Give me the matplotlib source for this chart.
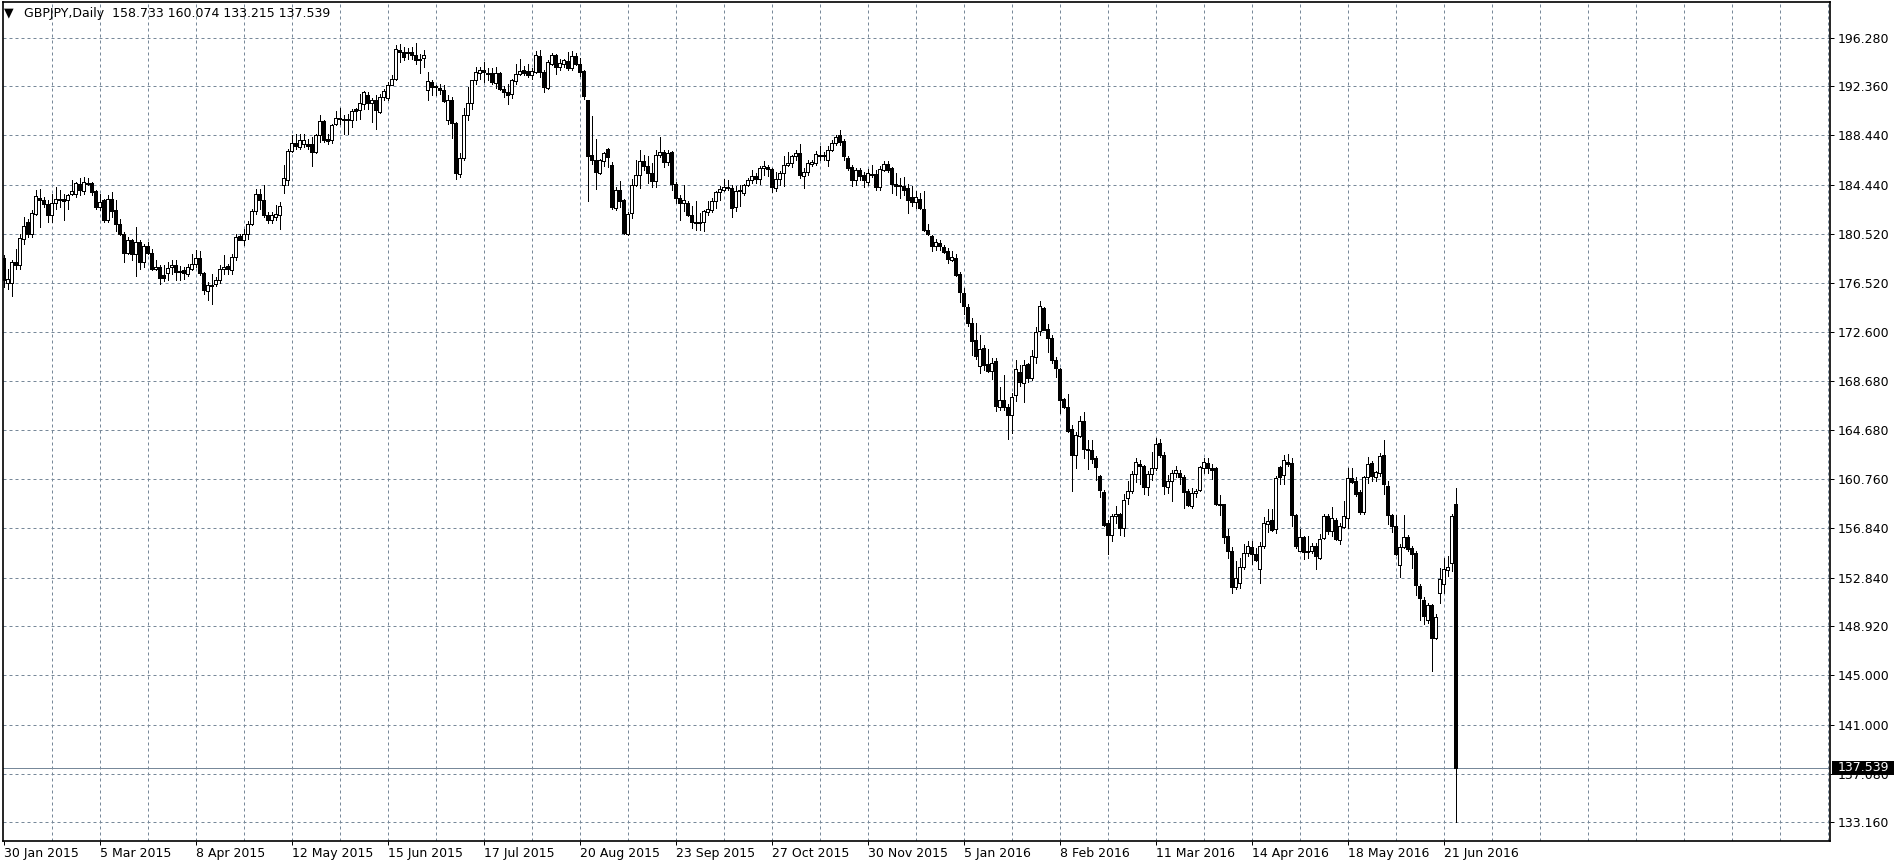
import matplotlib
matplotlib.use("Agg")
import matplotlib.pyplot as plt
from matplotlib.patches import Rectangle
from matplotlib.transforms import blended_transform_factory
import numpy as np

W, H, DPI = 1898, 867, 100
GRID = "#778899"
PX = 72.0 / DPI  # one pixel in points

symbol = "GBPJPY,Daily"

# daily OHLC, 30 Jan 2015 .. 24 Jun 2016
opens = [
    178.59, 176.58, 176.58, 178.24, 178.03, 180.12, 181.46, 180.52, 182.13, 183.41,
    183.20, 182.93, 182.00, 182.98, 183.20, 183.33, 183.25, 183.68, 183.73, 184.54,
    183.95, 184.62, 184.62, 183.95, 182.66, 183.20, 181.59, 183.33, 182.45, 181.32,
    180.52, 178.99, 179.98, 178.91, 179.85, 178.24, 179.50, 178.99, 177.65, 177.84,
    177.16, 177.38, 177.84, 177.97, 177.51, 177.57, 177.30, 177.70, 178.11, 178.59,
    177.38, 175.90, 176.41, 176.50, 176.77, 177.70, 177.92, 177.57, 178.64, 180.33,
    180.03, 180.46, 181.32, 182.34, 183.73, 183.25, 182.00, 181.59, 181.86, 182.04,
    184.40, 184.86, 187.14, 187.83, 187.49, 187.70, 187.75, 187.75, 187.08, 188.42,
    189.55, 188.10, 188.02, 189.31, 189.85, 189.71, 189.66, 189.69, 190.52, 190.44,
    190.97, 191.64, 191.05, 191.24, 190.30, 191.51, 191.43, 192.50, 192.98, 195.31,
    195.13, 195.05, 195.13, 194.91, 194.59, 194.67, 192.04, 192.71, 192.37, 192.26,
    192.04, 189.63, 191.24, 189.44, 185.34, 186.63, 190.03, 191.05, 192.85, 193.44,
    193.65, 193.44, 193.44, 192.63, 193.47, 192.18, 191.91, 191.72, 192.77, 193.33,
    193.65, 193.57, 193.30, 193.52, 194.80, 193.52, 192.26, 194.19, 194.85, 193.92,
    194.19, 194.38, 193.87, 194.78, 194.13, 193.60, 191.24, 186.82, 186.41, 185.42,
    186.33, 187.30, 186.01, 182.58, 184.05, 183.20, 180.46, 182.18, 184.46, 185.21,
    186.33, 185.96, 185.39, 184.72, 186.81, 187.08, 186.25, 187.05, 184.50, 183.38,
    182.98, 182.98, 182.04, 181.42, 181.42, 181.42, 182.23, 182.44, 183.11, 183.86,
    184.05, 184.26, 184.18, 182.65, 183.91, 183.78, 184.42, 184.80, 185.12, 184.91,
    185.79, 185.87, 185.71, 184.18, 184.91, 185.39, 186.06, 186.19, 186.73, 187.00,
    185.12, 185.47, 186.14, 186.19, 186.86, 186.81, 186.41, 187.27, 187.80, 188.42,
    187.94, 186.60, 185.87, 184.80, 185.66, 185.20, 184.64, 185.26, 185.31, 184.24,
    185.66, 186.11, 185.79, 184.50, 184.45, 184.37, 184.18, 183.43, 183.03, 183.32,
    182.52, 180.83, 180.35, 179.49, 179.76, 179.41, 179.14, 178.42, 178.55, 177.27,
    175.78, 174.62, 173.36, 171.99, 169.90, 171.35, 170.01, 169.47, 170.23, 166.58,
    167.12, 166.53, 165.96, 167.57, 169.39, 168.51, 170.01, 168.94, 170.60, 172.67,
    174.57, 172.88, 172.08, 170.39, 169.59, 167.20, 166.58, 164.76, 162.69, 164.25,
    165.43, 163.22, 163.09, 162.47, 161.00, 159.74, 157.25, 156.25, 157.81, 157.99,
    156.87, 159.21, 159.80, 161.16, 161.97, 161.81, 160.14, 161.16, 161.70, 163.71,
    162.74, 160.14, 160.63, 161.30, 161.27, 160.90, 159.80, 158.62, 159.69, 159.87,
    161.68, 162.03, 161.68, 161.68, 158.78, 158.73, 156.23, 154.97, 152.08, 152.43,
    153.69, 154.84, 155.30, 154.76, 153.55, 155.38, 157.18, 157.47, 156.72, 161.73,
    161.09, 162.16, 162.03, 157.87, 155.02, 156.10, 155.02, 154.97, 155.38, 154.44,
    156.05, 157.79, 156.58, 157.47, 155.91, 156.90, 157.66, 160.82, 160.61, 159.75,
    158.14, 160.93, 162.03, 160.93, 161.28, 162.70, 160.20, 157.87, 156.98, 153.82,
    155.30, 156.10, 155.24, 154.81, 152.16, 151.03, 149.47, 150.63, 147.95, 151.62,
    152.37, 153.42, 154.03, 158.733,
]
highs = [
    178.78, 177.70, 178.43, 179.31, 180.52, 181.86, 181.72, 182.40, 184.00, 184.13,
    183.47, 183.20, 183.73, 184.27, 184.00, 183.73, 183.73, 184.86, 184.67, 185.02,
    185.07, 185.02, 184.67, 184.00, 183.73, 183.33, 183.60, 183.87, 183.20, 181.72,
    180.65, 180.25, 180.12, 181.05, 179.98, 179.71, 179.85, 179.31, 178.37, 177.97,
    177.97, 178.24, 178.37, 178.43, 177.89, 177.84, 178.11, 178.91, 179.23, 179.12,
    177.43, 176.63, 177.30, 177.03, 177.97, 178.78, 178.05, 178.91, 180.52, 180.52,
    180.92, 181.53, 182.53, 184.13, 184.13, 184.46, 182.26, 182.26, 182.79, 183.06,
    186.07, 187.35, 188.42, 188.56, 188.56, 188.56, 188.16, 188.29, 188.56, 190.03,
    189.66, 188.56, 189.36, 190.38, 190.65, 190.03, 190.11, 190.57, 190.65, 191.72,
    191.99, 191.91, 191.45, 191.64, 191.72, 192.18, 192.71, 193.25, 195.66, 195.80,
    195.53, 195.47, 195.53, 195.88, 194.99, 195.26, 193.52, 192.85, 192.45, 192.58,
    192.45, 191.64, 191.51, 189.50, 187.00, 190.65, 192.31, 192.90, 193.92, 193.92,
    194.32, 193.87, 193.87, 193.92, 193.52, 192.37, 192.58, 192.98, 194.19, 194.59,
    193.97, 194.19, 193.87, 195.21, 195.26, 193.65, 194.46, 195.05, 194.99, 194.59,
    194.59, 195.13, 195.21, 195.05, 194.67, 193.71, 191.29, 189.95, 188.16, 186.55,
    187.08, 187.41, 186.28, 184.27, 184.72, 183.33, 182.26, 184.94, 186.41, 187.27,
    186.87, 186.74, 186.19, 187.27, 188.28, 187.27, 187.27, 187.13, 184.64, 183.65,
    184.45, 183.11, 182.71, 183.11, 182.17, 182.44, 183.11, 183.38, 183.97, 184.37,
    184.91, 184.80, 184.45, 184.37, 184.45, 184.50, 184.99, 185.66, 185.39, 185.98,
    186.38, 186.06, 185.79, 185.44, 185.52, 186.73, 187.05, 186.86, 187.27, 187.75,
    185.79, 186.46, 186.46, 187.13, 187.53, 187.05, 187.53, 188.07, 188.47, 188.87,
    188.12, 186.73, 186.06, 185.79, 185.79, 185.44, 185.71, 186.06, 185.66, 185.93,
    186.33, 186.38, 185.87, 185.39, 184.99, 185.07, 184.53, 184.32, 183.91, 183.78,
    183.97, 181.31, 180.43, 180.08, 180.03, 179.63, 179.36, 179.09, 178.90, 177.40,
    176.18, 174.84, 173.76, 173.36, 172.34, 171.59, 171.27, 170.55, 170.55, 168.14,
    169.13, 166.85, 167.70, 170.39, 169.93, 170.33, 170.12, 171.14, 173.02, 175.08,
    174.62, 173.28, 172.35, 170.60, 169.67, 167.33, 167.65, 165.10, 164.57, 165.83,
    166.18, 163.95, 163.95, 162.61, 161.08, 159.93, 157.46, 157.99, 158.59, 158.05,
    159.61, 160.63, 161.43, 162.50, 162.29, 161.89, 161.43, 162.96, 164.11, 164.03,
    162.96, 161.08, 161.48, 161.81, 161.48, 161.06, 160.01, 160.09, 159.96, 161.81,
    162.48, 162.48, 161.95, 161.73, 159.53, 158.78, 156.72, 155.30, 154.22, 154.44,
    155.51, 155.78, 155.78, 155.24, 155.73, 157.71, 158.33, 158.33, 161.01, 161.81,
    162.70, 162.80, 162.48, 157.97, 156.72, 156.18, 156.18, 155.64, 155.64, 156.39,
    158.00, 157.97, 158.51, 157.60, 157.25, 158.99, 161.68, 161.68, 160.93, 159.86,
    161.01, 162.54, 162.21, 161.46, 162.88, 163.88, 160.61, 157.97, 157.92, 155.56,
    157.92, 156.31, 155.38, 154.97, 152.37, 151.27, 150.82, 150.69, 149.88, 153.63,
    154.44, 154.57, 157.97, 160.074,
]
lows = [
    176.23, 176.10, 175.51, 177.70, 177.70, 179.71, 180.25, 180.25, 182.00, 181.05,
    182.66, 181.46, 181.46, 182.53, 182.66, 181.64, 182.53, 183.60, 183.47, 183.60,
    183.68, 184.40, 183.60, 182.53, 182.40, 181.46, 181.46, 181.86, 180.73, 180.38,
    178.24, 178.91, 178.37, 177.08, 177.70, 177.84, 178.91, 177.57, 177.57, 176.50,
    176.71, 176.77, 177.30, 176.77, 176.77, 176.90, 177.08, 177.57, 177.84, 177.16,
    175.64, 175.21, 174.88, 176.31, 176.58, 177.30, 177.24, 177.30, 178.37, 179.98,
    179.58, 180.12, 181.19, 182.07, 182.53, 181.86, 181.37, 181.37, 181.59, 180.92,
    183.79, 184.40, 187.08, 187.35, 187.35, 187.49, 187.35, 185.96, 187.00, 187.89,
    187.89, 187.75, 187.81, 189.23, 189.31, 188.56, 188.50, 189.09, 189.63, 189.71,
    190.57, 190.57, 189.50, 188.91, 190.22, 191.24, 191.29, 192.45, 192.90, 194.32,
    194.51, 194.59, 194.54, 194.19, 193.44, 193.92, 191.24, 191.64, 191.64, 191.77,
    191.11, 189.31, 188.24, 184.89, 185.07, 186.41, 189.66, 190.52, 192.58, 192.98,
    192.71, 192.85, 192.58, 192.26, 192.04, 191.51, 190.97, 191.45, 192.58, 193.25,
    193.25, 193.12, 192.98, 193.44, 193.12, 191.91, 192.18, 194.05, 193.38, 193.65,
    193.92, 193.71, 193.71, 194.05, 193.20, 191.37, 183.12, 186.09, 184.13, 185.34,
    185.93, 185.88, 182.53, 182.40, 182.66, 180.52, 180.38, 181.80, 184.35, 184.21,
    185.61, 184.59, 184.24, 184.26, 186.68, 185.87, 186.06, 184.05, 182.98, 181.63,
    182.31, 181.90, 180.96, 180.83, 180.83, 180.70, 182.04, 182.23, 182.57, 183.24,
    183.91, 184.05, 181.85, 182.31, 182.76, 183.65, 184.37, 184.58, 184.58, 184.50,
    185.26, 185.12, 183.83, 183.91, 184.45, 184.37, 185.98, 185.85, 186.46, 184.99,
    184.18, 185.26, 185.93, 186.06, 186.46, 186.46, 185.98, 187.13, 187.67, 187.61,
    186.46, 185.66, 184.32, 184.45, 184.85, 184.26, 184.40, 185.07, 183.99, 184.05,
    185.52, 185.44, 183.78, 183.65, 183.38, 183.65, 182.17, 182.71, 182.57, 182.49,
    180.70, 180.43, 179.09, 179.22, 179.22, 178.95, 178.15, 178.28, 177.08, 175.00,
    174.09, 173.07, 170.74, 170.44, 169.31, 169.53, 169.39, 168.86, 166.26, 166.31,
    166.36, 164.03, 164.49, 167.04, 168.24, 166.98, 168.59, 168.72, 170.12, 172.40,
    172.75, 171.01, 170.07, 169.00, 166.05, 166.45, 164.57, 159.82, 161.70, 164.17,
    162.50, 161.62, 162.07, 160.73, 159.34, 156.98, 154.73, 155.80, 157.25, 156.25,
    156.18, 158.75, 159.66, 160.55, 160.36, 159.55, 159.47, 160.73, 161.54, 162.56,
    159.55, 159.66, 159.02, 160.95, 160.36, 158.48, 158.59, 158.48, 159.29, 159.80,
    161.27, 161.27, 160.74, 158.67, 157.92, 155.64, 154.44, 151.62, 151.89, 151.97,
    153.50, 154.57, 153.90, 154.17, 152.43, 155.24, 156.54, 156.59, 156.45, 160.37,
    160.39, 161.81, 156.98, 155.24, 154.97, 154.38, 154.44, 154.84, 153.55, 154.38,
    155.99, 156.37, 156.18, 155.91, 155.56, 156.80, 156.85, 160.43, 159.40, 157.97,
    157.97, 160.47, 160.61, 160.61, 161.01, 159.59, 157.12, 156.53, 154.65, 152.89,
    155.24, 155.02, 153.63, 151.43, 149.47, 149.13, 149.21, 145.37, 147.87, 150.82,
    151.62, 152.97, 153.36, 133.215,
]
closes = [
    176.77, 176.90, 178.24, 178.03, 180.20, 181.11, 180.52, 182.18, 183.52, 183.20,
    182.93, 182.00, 183.01, 183.33, 183.33, 183.14, 183.60, 183.92, 184.59, 184.00,
    184.67, 184.54, 183.87, 182.66, 183.06, 181.59, 183.33, 182.34, 181.32, 180.52,
    178.99, 179.98, 178.91, 179.85, 178.24, 179.50, 178.99, 177.70, 177.84, 176.98,
    176.98, 177.78, 178.03, 177.43, 177.43, 177.38, 177.84, 178.11, 178.59, 177.35,
    176.01, 176.36, 176.31, 176.82, 177.70, 177.84, 177.70, 178.64, 180.25, 180.03,
    180.46, 181.32, 182.31, 183.73, 183.25, 182.00, 181.59, 182.00, 182.13, 182.71,
    184.99, 187.14, 187.83, 187.57, 188.02, 188.02, 187.54, 187.08, 188.42, 189.55,
    188.02, 187.97, 189.28, 189.85, 189.74, 189.66, 189.71, 190.35, 190.38, 191.05,
    191.91, 191.02, 191.24, 190.44, 191.51, 191.96, 192.50, 192.98, 195.39, 195.13,
    194.72, 195.13, 194.85, 194.51, 194.51, 194.85, 192.79, 192.31, 192.31, 192.04,
    191.19, 191.24, 189.42, 185.39, 186.63, 190.03, 191.05, 192.85, 193.52, 193.71,
    193.52, 193.38, 192.71, 193.44, 192.12, 191.91, 191.69, 192.85, 193.38, 193.60,
    193.44, 193.25, 193.57, 194.85, 193.52, 192.31, 194.32, 194.85, 193.92, 194.24,
    194.46, 193.87, 194.78, 194.19, 193.52, 191.56, 186.74, 186.47, 185.47, 186.41,
    187.03, 186.68, 182.66, 184.05, 183.14, 180.60, 182.13, 184.46, 185.21, 186.33,
    185.96, 185.39, 184.72, 186.86, 187.08, 186.25, 187.00, 184.50, 183.38, 182.98,
    183.24, 182.04, 181.42, 181.37, 181.37, 182.31, 182.49, 183.16, 183.86, 184.10,
    184.24, 184.16, 182.57, 183.91, 184.05, 184.40, 184.85, 185.12, 184.91, 185.79,
    185.98, 185.71, 184.24, 184.91, 185.39, 186.06, 186.19, 186.73, 187.00, 185.20,
    185.47, 186.19, 186.25, 186.94, 186.78, 186.73, 187.27, 187.80, 188.28, 187.86,
    186.73, 185.79, 184.80, 185.66, 185.17, 184.80, 185.39, 185.31, 184.24, 185.71,
    186.11, 185.66, 184.53, 184.37, 184.37, 183.99, 183.19, 183.03, 183.43, 182.57,
    180.83, 180.51, 179.49, 179.81, 179.49, 179.03, 178.50, 178.63, 177.16, 175.79,
    174.70, 173.34, 171.89, 170.65, 171.27, 169.93, 169.47, 170.12, 166.66, 167.12,
    166.53, 165.91, 167.38, 169.66, 168.59, 169.93, 168.91, 170.66, 172.59, 174.68,
    172.80, 172.08, 170.39, 169.67, 167.17, 166.58, 164.65, 162.69, 164.35, 165.43,
    163.22, 163.09, 162.42, 161.75, 159.87, 157.06, 156.25, 157.78, 157.99, 156.87,
    159.07, 159.80, 161.16, 162.13, 161.83, 160.14, 161.16, 161.70, 163.63, 162.69,
    160.22, 160.60, 161.30, 161.54, 160.90, 159.74, 158.67, 159.69, 159.80, 161.75,
    162.16, 161.68, 161.54, 158.78, 158.67, 156.10, 155.02, 152.08, 152.83, 153.69,
    154.84, 155.38, 154.76, 154.30, 155.38, 157.20, 157.39, 156.67, 160.82, 160.93,
    162.27, 162.00, 157.87, 155.38, 156.10, 154.92, 154.92, 155.38, 154.57, 155.99,
    157.79, 156.58, 157.60, 155.99, 156.98, 157.84, 160.82, 160.55, 159.59, 158.14,
    160.93, 161.95, 161.01, 161.33, 162.62, 160.34, 157.87, 156.98, 154.76, 155.30,
    156.10, 155.11, 154.76, 152.21, 151.22, 149.75, 150.63, 148.00, 149.67, 152.70,
    153.50, 153.71, 157.79, 137.539,
]

date_labels = ["30 Jan 2015", "5 Mar 2015", "8 Apr 2015", "12 May 2015", "15 Jun 2015",
               "17 Jul 2015", "20 Aug 2015", "23 Sep 2015", "27 Oct 2015", "30 Nov 2015",
               "5 Jan 2016", "8 Feb 2016", "11 Mar 2016", "14 Apr 2016", "18 May 2016",
               "21 Jun 2016"]
price_ticks = [196.28, 192.36, 188.44, 184.44, 180.52, 176.52, 172.60, 168.68, 164.68,
               160.76, 156.84, 152.84, 148.92, 145.00, 141.00, 137.08, 133.16]

plt.rcParams["font.family"] = "DejaVu Sans"
fig = plt.figure(figsize=(W / DPI, H / DPI), dpi=DPI)
fig.patch.set_facecolor("white")

# plot frame in pixels: x 2.7..1830, y 2..841 (from top)
L, R, T, B = 2.7, 1830.0, 2.0, 841.0
ax = fig.add_axes([L / W, (H - B) / H, (R - L) / W, (B - T) / H])
ax.set_facecolor("white")

o, h, l, c = map(np.asarray, (opens, highs, lows, closes))
x = np.arange(len(c))
up = c >= o

# grid
for p in price_ticks:
    ax.axhline(p, color=GRID, lw=PX, ls=(0, (3, 3)), zorder=1)
for xv in range(12, 457, 12):
    ax.axvline(xv, color=GRID, lw=PX, ls=(0, (3, 3)), zorder=1)

# bid line
ax.axhline(c[-1], color=GRID, lw=PX, zorder=2)

# candles
ax.vlines(x, l, h, colors="black", lw=PX, zorder=3, antialiased=False)
ax.bar(x, np.abs(c - o), bottom=np.minimum(o, c), width=0.55,
       color=np.where(up, "white", "black"), edgecolor="black", linewidth=PX,
       zorder=4, antialiased=False)

ax.set_xlim(-0.22, 456.6)
ax.set_ylim(131.656, 199.15)

ax.set_xticks(np.arange(len(date_labels)) * 24)
ax.set_xticklabels(date_labels, ha="left")
ax.yaxis.tick_right()
ax.set_yticks(price_ticks)
ax.set_yticklabels([f"{p:.3f}" for p in price_ticks])
ax.tick_params(axis="x", direction="out", length=4 * PX, width=PX, pad=1.5,
               labelsize=9, colors="black")
ax.tick_params(axis="y", direction="out", length=4 * PX, width=PX, pad=2.6,
               labelsize=9, colors="black")
for s in ax.spines.values():
    s.set_color("black")
    s.set_linewidth(1.2)

# current price marker on the price scale (covers the 137.080 label, as in MT4)
bt = blended_transform_factory(ax.transAxes, ax.transData)
aw = R - L
ax.add_patch(Rectangle(((1832 - L) / aw, c[-1] - 0.58), 62 / aw, 1.16, transform=bt,
                       facecolor="black", edgecolor="none", clip_on=False, zorder=10))
ax.text((1837.7 - L) / aw, c[-1], f"{c[-1]:.3f}", transform=bt, color="white",
        fontsize=9, ha="left", va="center", clip_on=False, zorder=11)

# header
yh = 1 - 13.3 / H
fig.text(4 / W, yh, "\u25bc", fontsize=9, va="center", ha="left", color="black")
fig.text(24 / W, yh,
         f"{symbol}  {o[-1]:.3f} {h[-1]:.3f} {l[-1]:.3f} {c[-1]:.3f}",
         fontsize=9, va="center", ha="left", color="black")

fig.savefig("out.png", dpi=DPI)
